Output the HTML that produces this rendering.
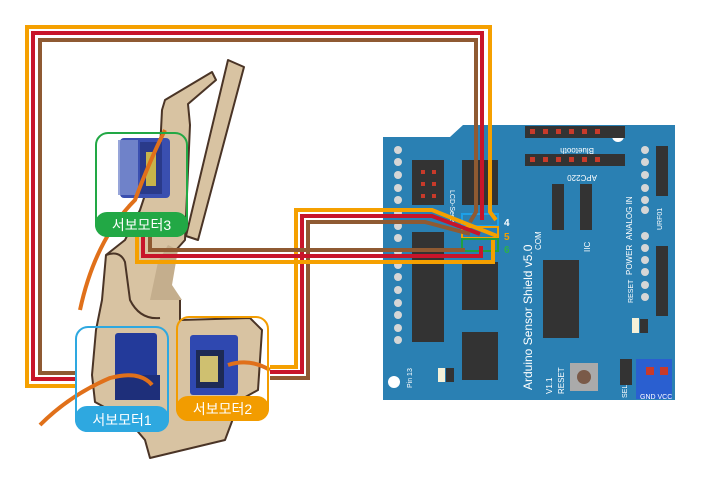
<!DOCTYPE html>
<html><head><meta charset="utf-8"><style>
html,body{margin:0;padding:0;background:#fff;width:715px;height:484px;overflow:hidden}
svg{display:block}
text{font-family:"Liberation Sans","Noto Sans CJK KR",sans-serif}
</style></head><body>
<svg width="715" height="484" viewBox="0 0 715 484" xmlns="http://www.w3.org/2000/svg">
<!-- robot arm wood -->
<g fill="#d8c3a2" stroke="#4a3426" stroke-width="2" stroke-linejoin="round">
<polygon points="165,100 212,72 216,80 188,104 190,125 185,240 176,250 170,285 180,300 180,320 250,318 262,330 258,390 240,400 225,440 150,458 145,440 128,420 95,402 92,375 96,330 102,300 106,255 125,240 140,210 160,150 162,110"/>
<polygon points="228,60 244,67 198,240 186,236"/>
</g>
<polygon points="150,300 158,262 168,245 178,250 172,285 182,300" fill="#c4ae8d"/>
<path d="M106,255 Q120,250 125,262 L130,300 Q140,320 160,318" fill="none" stroke="#4a3426" stroke-width="2"/>
<!-- servo3 -->
<rect x="120" y="138" width="50" height="60" fill="#3a4fb0" rx="4"/>
<rect x="140" y="142" width="22" height="52" fill="#2a3a8a"/>
<rect x="146" y="152" width="10" height="34" fill="#c8b44a"/>
<rect x="118" y="140" width="20" height="55" fill="#7d8fd0" opacity=".8"/>
<!-- servo1 -->
<rect x="115" y="333" width="42" height="50" fill="#233a9a" rx="3"/>
<rect x="115" y="375" width="45" height="25" fill="#1e2f7a"/>
<!-- servo2 -->
<rect x="190" y="335" width="48" height="60" fill="#2f48b0" rx="3"/>
<rect x="196" y="350" width="28" height="38" fill="#1d2a55"/>
<rect x="200" y="356" width="18" height="26" fill="#cfc070"/>
<!-- servo cables -->
<path d="M80,310 Q95,240 135,200 Q150,160 165,130" fill="none" stroke="#e0701a" stroke-width="4"/>
<path d="M40,425 Q70,395 110,378 Q140,370 152,385" fill="none" stroke="#e0701a" stroke-width="4"/>
<path d="M228,365 Q250,358 270,370" fill="none" stroke="#e0701a" stroke-width="4"/>

<!-- Arduino board -->
<polygon points="383,137 450,137 463,125 675,125 675,400 383,400" fill="#2a80b3"/>
<g fill="#d6d6d6">
<circle cx="398" cy="150" r="4"/><circle cx="398" cy="162" r="4"/><circle cx="398" cy="175" r="4"/><circle cx="398" cy="188" r="4"/><circle cx="398" cy="200" r="4"/><circle cx="398" cy="213" r="4"/><circle cx="398" cy="226" r="4"/><circle cx="398" cy="238" r="4"/><circle cx="398" cy="252" r="4"/><circle cx="398" cy="265" r="4"/><circle cx="398" cy="277" r="4"/><circle cx="398" cy="290" r="4"/><circle cx="398" cy="303" r="4"/><circle cx="398" cy="315" r="4"/><circle cx="398" cy="328" r="4"/><circle cx="398" cy="340" r="4"/>
<circle cx="645" cy="150" r="4"/><circle cx="645" cy="162" r="4"/><circle cx="645" cy="175" r="4"/><circle cx="645" cy="188" r="4"/><circle cx="645" cy="200" r="4"/><circle cx="645" cy="210" r="4"/>
<circle cx="645" cy="236" r="4"/><circle cx="645" cy="248" r="4"/><circle cx="645" cy="260" r="4"/><circle cx="645" cy="272" r="4"/><circle cx="645" cy="285" r="4"/><circle cx="645" cy="297" r="4"/>
</g>
<circle cx="618" cy="136" r="6" fill="#fff"/><circle cx="394" cy="382" r="6" fill="#fff"/>
<g fill="#333">
<rect x="412" y="160" width="32" height="45"/><rect x="412" y="232" width="32" height="110"/>
<rect x="462" y="160" width="36" height="45"/>
<rect x="462" y="262" width="36" height="48"/><rect x="462" y="332" width="36" height="48"/>
<rect x="543" y="260" width="36" height="78"/>
<rect x="525" y="126" width="100" height="12"/><rect x="525" y="154" width="100" height="12"/>
<rect x="552" y="184" width="12" height="46"/><rect x="580" y="184" width="12" height="46"/>
<rect x="656" y="146" width="12" height="50"/><rect x="656" y="246" width="12" height="70"/>
<rect x="620" y="359" width="12" height="26"/>
<rect x="570" y="363" width="28" height="28" fill="#aaa"/>
<rect x="640" y="319" width="8" height="14"/><rect x="446" y="368" width="8" height="14"/>
</g>
<circle cx="584" cy="377" r="7" fill="#7a5a48"/>
<rect x="632" y="318" width="7" height="15" fill="#f4f0d8"/><rect x="438" y="368" width="7" height="14" fill="#f4f0d8"/>
<rect x="636" y="359" width="36" height="40" fill="#2a5fd0"/>
<g fill="#c83a2a">
<rect x="421" y="170" width="4" height="4"/><rect x="432" y="170" width="4" height="4"/><rect x="421" y="182" width="4" height="4"/><rect x="432" y="182" width="4" height="4"/><rect x="421" y="194" width="4" height="4"/><rect x="432" y="194" width="4" height="4"/>
<rect x="530" y="129" width="5" height="5"/><rect x="543" y="129" width="5" height="5"/><rect x="556" y="129" width="5" height="5"/><rect x="569" y="129" width="5" height="5"/><rect x="582" y="129" width="5" height="5"/><rect x="595" y="129" width="5" height="5"/>
<rect x="530" y="157" width="5" height="5"/><rect x="543" y="157" width="5" height="5"/><rect x="556" y="157" width="5" height="5"/><rect x="569" y="157" width="5" height="5"/><rect x="582" y="157" width="5" height="5"/><rect x="595" y="157" width="5" height="5"/>
<rect x="646" y="367" width="8" height="8"/><rect x="660" y="367" width="8" height="8"/>
</g>
<g fill="#fff" font-size="7">
<text x="450" y="190" transform="rotate(90 450 190)">LCD-Serial</text>
<text x="412" y="388" font-size="7" transform="rotate(-90 412 388)">Pin 13</text>
<text x="532" y="390" font-size="12" font-family="Liberation Mono" transform="rotate(-90 532 390)">Arduino Sensor Shield v5.0</text>
<text x="564" y="394" font-size="8" transform="rotate(-90 564 394)">RESET</text>
<text x="552" y="394" font-size="8" transform="rotate(-90 552 394)">V1.1</text>
<text x="594" y="148" font-size="8" transform="rotate(180 594 148)">Bluetooth</text>
<text x="597" y="175" font-size="8" transform="rotate(180 597 175)">APC220</text>
<text x="632" y="240" font-size="8" transform="rotate(-90 632 240)">ANALOG IN</text>
<text x="632" y="275" font-size="8" transform="rotate(-90 632 275)">POWER</text>
<text x="633" y="303" font-size="7" transform="rotate(-90 633 303)">RESET</text>
<text x="541" y="250" font-size="8" transform="rotate(-90 541 250)">COM</text>
<text x="590" y="252" font-size="8" transform="rotate(-90 590 252)">IIC</text>
<text x="627" y="398" font-size="7" transform="rotate(-90 627 398)">SEL</text>
<text x="640" y="399" font-size="7">GND VCC</text>
<text x="662" y="230" font-size="7" transform="rotate(-90 662 230)">URF01</text>
</g>
<text x="504" y="226" font-size="10" font-weight="bold" fill="#fff">4</text>
<text x="504" y="240" font-size="10" font-weight="bold" fill="#f5a000">5</text>
<text x="504" y="253" font-size="10" font-weight="bold" fill="#2db04a">6</text>
<rect x="462" y="214" width="36" height="12" fill="none" stroke="#1da0e8" stroke-width="2"/>
<rect x="462" y="227" width="36" height="11" fill="none" stroke="#f5a000" stroke-width="2"/>
<rect x="462" y="239" width="36" height="12" fill="none" stroke="#20a040" stroke-width="2"/>

<!-- wires -->
<g fill="none" stroke-width="4" stroke-linejoin="miter">
<path d="M75,386 H27 V27 H490 V212 L496,220" stroke="#f5a000"/>
<path d="M75,379 H33 V33 H482 V220" stroke="#c8152a"/>
<path d="M75,373 H40 V40 H476 V212 L470,222" stroke="#8f5a32"/>
<path d="M270,367 H296 V210 H432 L497,236" stroke="#f5a000"/>
<path d="M270,372 H302 V216 H432 L480,234" stroke="#c8152a"/>
<path d="M270,378 H308 V222 H425 L470,234" stroke="#8f5a32"/>
<path d="M137,225 V262 H493 V240" stroke="#f5a000"/>
<path d="M143,225 V256 H481 V246" stroke="#c8152a"/>
<path d="M150,225 V250 H465" stroke="#8f5a32"/>
</g>

<!-- labels -->
<rect x="96" y="133" width="91" height="103" rx="12" fill="none" stroke="#22a845" stroke-width="2"/>
<rect x="95" y="212" width="93" height="25" rx="12" fill="#22a845"/>
<text x="141.5" y="230" text-anchor="middle" font-size="14" fill="#fff">서보모터3</text>
<rect x="76" y="327" width="92" height="104" rx="12" fill="none" stroke="#2ea8e0" stroke-width="2"/>
<rect x="75" y="406" width="94" height="26" rx="12" fill="#2ea8e0"/>
<text x="122" y="425" text-anchor="middle" font-size="14" fill="#fff">서보모터1</text>
<rect x="177" y="317" width="91" height="103" rx="12" fill="none" stroke="#f29c00" stroke-width="2"/>
<rect x="176" y="396" width="93" height="25" rx="12" fill="#f29c00"/>
<text x="222.5" y="414" text-anchor="middle" font-size="14" fill="#fff">서보모터2</text>
</svg>
</body></html>
